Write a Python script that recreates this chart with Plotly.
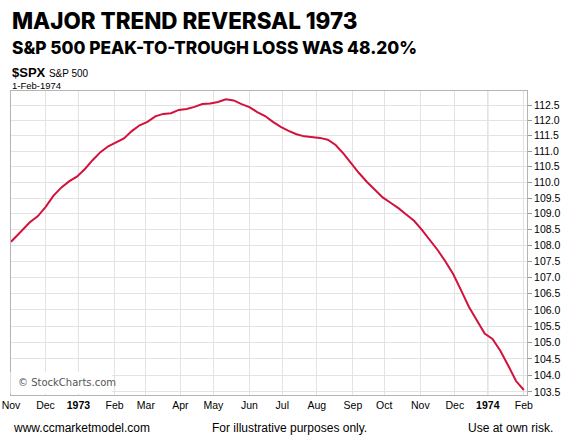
import plotly.graph_objects as go

# ---- data ----
dates = [
    "1972-11-01", "1972-11-03", "1972-11-10", "1972-11-17", "1972-11-24",
    "1972-12-01", "1972-12-08", "1972-12-15", "1972-12-22", "1972-12-29",
    "1973-01-05", "1973-01-12", "1973-01-19", "1973-01-26",
    "1973-02-02", "1973-02-09", "1973-02-16", "1973-02-23",
    "1973-03-02", "1973-03-09", "1973-03-16", "1973-03-23", "1973-03-30",
    "1973-04-06", "1973-04-13", "1973-04-20", "1973-04-27",
    "1973-05-04", "1973-05-11", "1973-05-18", "1973-05-25",
    "1973-06-01", "1973-06-08", "1973-06-15", "1973-06-22", "1973-06-29",
    "1973-07-06", "1973-07-13", "1973-07-20", "1973-07-27",
    "1973-08-03", "1973-08-10", "1973-08-17", "1973-08-24", "1973-08-31",
    "1973-09-07", "1973-09-14", "1973-09-21", "1973-09-28",
    "1973-10-05", "1973-10-12", "1973-10-19", "1973-10-26",
    "1973-11-02", "1973-11-09", "1973-11-16", "1973-11-23", "1973-11-30",
    "1973-12-07", "1973-12-14", "1973-12-21", "1973-12-28",
    "1974-01-04", "1974-01-11", "1974-01-18", "1974-01-25", "1974-02-01",
]
spx = [
    108.12, 108.23, 108.47, 108.73, 108.92,
    109.21, 109.57, 109.83, 110.03, 110.18,
    110.42, 110.71, 110.97, 111.16,
    111.29, 111.41, 111.65, 111.84,
    111.95, 112.13, 112.21, 112.23, 112.34,
    112.37, 112.44, 112.53, 112.55,
    112.60, 112.69, 112.65, 112.53,
    112.43, 112.27, 112.14, 111.95, 111.79,
    111.66, 111.55, 111.48, 111.45,
    111.43, 111.37, 111.20, 110.92, 110.60,
    110.29, 110.01, 109.78, 109.52,
    109.35, 109.18, 108.98, 108.78,
    108.49, 108.17, 107.86, 107.50, 107.10,
    106.60, 106.09, 105.68, 105.27,
    105.11, 104.75, 104.30, 103.83, 103.56,
]

month_ticks = [
    "1972-11-01", "1972-12-01", "1973-01-01", "1973-02-01", "1973-03-01",
    "1973-04-02", "1973-05-01", "1973-06-01", "1973-07-02", "1973-08-01",
    "1973-09-03", "1973-10-01", "1973-11-01", "1973-12-03", "1974-01-01",
    "1974-02-01",
]
month_labels = [
    "Nov", "Dec", "<b>1973</b>", "Feb", "Mar", "Apr", "May", "Jun", "Jul",
    "Aug", "Sep", "Oct", "Nov", "Dec", "<b>1974</b>", "Feb",
]
year_lines = ["1973-01-01", "1974-01-01"]
y_ticks = [103.5, 104.0, 104.5, 105.0, 105.5, 106.0, 106.5, 107.0, 107.5,
           108.0, 108.5, 109.0, 109.5, 110.0, 110.5, 111.0, 111.5, 112.0, 112.5]
y_labels = [f"{v:.1f}" for v in y_ticks]

title = "MAJOR TREND REVERSAL 1973"
subtitle = "S&P 500 PEAK-TO-TROUGH LOSS WAS 48.20%"

# ---- geometry ----
W, H = 566, 443
L, R, T, B = 11, 527, 91, 395
pw, ph = R - L, B - T


def px(x):
    return (x - L) / pw


def py(y):
    return (B - y) / ph


fig = go.Figure()
fig.add_trace(go.Scatter(
    x=dates, y=spx, mode="lines",
    line=dict(color="#d2123c", width=2),
    hoverinfo="x+y", showlegend=False,
))

grid = "#e3e3e3"
fig.update_layout(
    width=W, height=H,
    margin=dict(l=L, r=W - R, t=T, b=H - B, pad=0, autoexpand=False),
    paper_bgcolor="white", plot_bgcolor="white",
    font=dict(family="Liberation Sans, Arial, sans-serif", color="#000"),
    xaxis=dict(
        type="date", automargin=False,
        range=["1972-11-01", "1974-02-05"],
        rangebreaks=[dict(bounds=["sat", "mon"])],
        tickmode="array", tickvals=month_ticks, ticktext=month_labels,
        showgrid=True, gridcolor=grid, gridwidth=1,
        showline=True, linecolor="#b4b4b4", linewidth=1, mirror=True,
        ticks="", tickfont=dict(size=10.5, color="#000"),
        zeroline=False, fixedrange=True,
    ),
    yaxis=dict(
        type="log", side="right", automargin=False,
        range=[2.014561, 2.052919],
        tickmode="array", tickvals=y_ticks, ticktext=y_labels,
        showgrid=True, gridcolor=grid, gridwidth=1,
        showline=True, linecolor="#b4b4b4", linewidth=1, mirror=True,
        ticks="outside", ticklen=4, tickcolor="#9a9a9a",
        tickfont=dict(size=10.5, color="#000"),
        zeroline=False, fixedrange=True,
    ),
)

# darker year grid lines
for d in year_lines:
    fig.add_shape(type="line", xref="x", yref="paper", x0=d, x1=d, y0=0, y1=1,
                  line=dict(color="#c4c4c4", width=1), layer="below")

# watermark box
fig.add_shape(type="rect", xref="paper", yref="paper",
              x0=-0.001, x1=px(112), y0=py(393.5), y1=py(372),
              fillcolor="white", line=dict(width=0), layer="above")

annotations = [
    dict(text=title, x=px(10), y=py(20), xanchor="left", yanchor="middle",
         font=dict(family="Inter, sans-serif", size=22.4, weight=800, color="#000")),
    dict(text=subtitle, x=px(10), y=py(47.5), xanchor="left", yanchor="middle",
         font=dict(family="Inter, sans-serif", size=17.3, weight=800, color="#000")),
    dict(text="<b>$SPX</b> <span style='font-size:10px'>S&P 500</span>",
         x=px(10), y=py(72), xanchor="left", yanchor="middle",
         font=dict(family="Liberation Sans, Arial, sans-serif", size=13, color="#000")),
    dict(text="1-Feb-1974", x=px(10), y=py(85.5), xanchor="left", yanchor="middle",
         font=dict(family="Liberation Sans, Arial, sans-serif", size=9.5, color="#000")),
    dict(text="© StockCharts.com", x=px(16), y=py(382), xanchor="left", yanchor="middle",
         font=dict(family="DejaVu Sans, sans-serif", size=10, color="#555")),
    dict(text="www.ccmarketmodel.com", x=px(11), y=py(428), xanchor="left", yanchor="middle",
         font=dict(family="Liberation Sans, Arial, sans-serif", size=12, color="#000")),
    dict(text="For illustrative purposes only.", x=px(289), y=py(428), xanchor="center",
         yanchor="middle",
         font=dict(family="Liberation Sans, Arial, sans-serif", size=12, color="#000")),
    dict(text="Use at own risk.", x=px(555), y=py(428), xanchor="right", yanchor="middle",
         font=dict(family="Liberation Sans, Arial, sans-serif", size=12, color="#000")),
]
for a in annotations:
    a.update(xref="paper", yref="paper", showarrow=False)
fig.update_layout(annotations=annotations)

fig.write_html(
    "out.html",
    config={"displayModeBar": False, "staticPlot": False},
    post_script="document.body.style.margin='0';document.body.style.overflow='hidden';",
)
